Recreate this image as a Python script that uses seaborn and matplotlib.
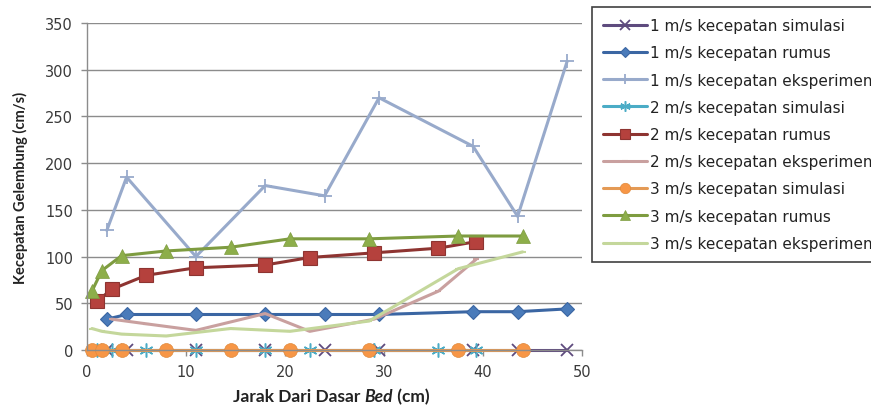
import numpy as np
import pandas as pd
import seaborn as sns
import matplotlib
matplotlib.use("Agg")
import matplotlib.pyplot as plt

sns.set_theme(style="white")
plt.rcParams["font.family"] = ["DejaVu Sans"]

# Measurement positions (cm from the bed) for each inlet velocity
x_1ms = [2, 4, 11, 18, 24, 29.5, 39, 43.5, 48.5]
x_2ms = [1, 2.5, 6, 11, 18, 22.5, 29, 35.5, 39.3]
x_3ms = [0.5, 1.5, 3.5, 8, 14.5, 20.5, 28.5, 37.5, 44]

# Bubble velocities (cm/s)
sim_1ms = [0, 0, 0, 0, 0, 0, 0, 0, 0]
rumus_1ms = [33, 38, 38, 38, 38, 38, 41, 41, 44]
eks_1ms = [128, 185, 100, 176, 165, 270, 218, 143, 309]

sim_2ms = [0, 0, 0, 0, 0, 0, 0, 0, 0]
rumus_2ms = [52, 65, 80, 88, 91, 99, 104, 109, 116]
eks_2ms = [np.nan, 33, 28, 21, 39, 20, 33, 63, 97]

sim_3ms = [0, 0, 0, 0, 0, 0, 0, 0, 0]
rumus_3ms = [63, 85, 101, 106, 110, 119, 119, 122, 122]
eks_3ms = [23, 20, 17, 15, 23, 20, 31, 87, 105]

labels = [
    "1 m/s kecepatan simulasi",
    "1 m/s kecepatan rumus",
    "1 m/s kecepatan eksperimen",
    "2 m/s kecepatan simulasi",
    "2 m/s kecepatan rumus",
    "2 m/s kecepatan eksperimen",
    "3 m/s kecepatan simulasi",
    "3 m/s kecepatan rumus",
    "3 m/s kecepatan eksperimen",
]

series = [
    (x_1ms, sim_1ms, dict(color="#5E4B7E", marker="x", ms=9, mew=1.3, mfc="#5E4B7E", mec="#5E4B7E")),
    (x_1ms, rumus_1ms, dict(color="#3B66A3", marker="D", ms=7, mew=0.8, mfc="#4A7BBA", mec="#3B66A3")),
    (x_1ms, eks_1ms, dict(color="#98AACB", marker="+", ms=10, mew=1.3, mfc="#98AACB", mec="#98AACB")),
    (x_2ms, sim_2ms, dict(color="#4BACC6", marker=(6, 2, 0), ms=10, mew=1.1, mfc="#4BACC6", mec="#4BACC6")),
    (x_2ms, rumus_2ms, dict(color="#8E3431", marker="s", ms=10, mew=0.8, mfc="#B5413D", mec="#8E3431")),
    (x_2ms, eks_2ms, dict(color="#C9A09F", marker="_", ms=5, mew=1.5, mfc="#C9A09F", mec="#C9A09F")),
    (x_3ms, sim_3ms, dict(color="#E49A55", marker="o", ms=10, mew=0.5, mfc="#F79646", mec="#E08A3C")),
    (x_3ms, rumus_3ms, dict(color="#7E9C40", marker="^", ms=10, mew=0.5, mfc="#8DAE4A", mec="#7E9C40")),
    (x_3ms, eks_3ms, dict(color="#C4D79B", marker="_", ms=5, mew=1.5, mfc="#C4D79B", mec="#C4D79B")),
]

fig = plt.figure(figsize=(8.71, 4.10), dpi=100)
ax = fig.add_axes([87 / 871, 1 - 351 / 410, (582 - 87) / 871, (351 - 24) / 410])

for (xs, ys, st), lab in zip(series, labels):
    df = pd.DataFrame({"x": xs, "y": ys})
    sns.lineplot(data=df, x="x", y="y", ax=ax, label=lab, color=st["color"],
                 marker=st["marker"], markersize=st["ms"], markeredgewidth=st["mew"],
                 markerfacecolor=st["mfc"], markeredgecolor=st["mec"],
                 linewidth=2.2, sort=False, estimator=None)
for ln in ax.get_lines():
    ln.set_clip_on(False)

ax.set_xlim(0, 50)
ax.set_ylim(0, 350)
ax.set_xticks([0, 10, 20, 30, 40, 50])
ax.set_yticks([0, 50, 100, 150, 200, 250, 300, 350])
ax.yaxis.grid(True, color="#8C8C8C", linewidth=1.0)
ax.set_axisbelow(True)
for side in ("top", "right"):
    ax.spines[side].set_visible(False)
for side in ("left", "bottom"):
    ax.spines[side].set_color("#8C8C8C")
    ax.spines[side].set_linewidth(1.0)
ax.tick_params(axis="both", labelsize=10.5, labelcolor="#3A3A3A", length=4, width=1,
               direction="out", left=True, bottom=True, pad=6, color="#8C8C8C")
ax.set_xlabel("")
ax.set_ylabel("Kecepatan Gelembung (cm/s)", fontsize=10.5, fontweight="bold",
              family=["Lato", "DejaVu Sans"], color="#222222", labelpad=12)

# x-axis title with italic "Bed"
fig.canvas.draw()
renderer = fig.canvas.get_renderer()
parts = [("Jarak Dari Dasar ", "normal"), ("Bed", "italic"), (" (cm)", "normal")]
texts = []
for s, style in parts:
    t = fig.text(0, 0, s, fontsize=12.5, fontweight="bold", style=style,
                 family=["Lato", "DejaVu Sans"], color="#222222", va="center", ha="left")
    texts.append(t)
widths = [t.get_window_extent(renderer).width for t in texts]
total = sum(widths)
cx = 331
x0 = cx - total / 2
for t, w in zip(texts, widths):
    t.set_position((x0 / 871, 1 - 397 / 410))
    x0 += w

leg = ax.legend(loc="upper left", bbox_to_anchor=(592 / 871, 1 - 8 / 410),
                bbox_transform=fig.transFigure, frameon=True, fancybox=False,
                edgecolor="#111111", fontsize=11, handlelength=2.9,
                handletextpad=0.15, labelspacing=0.8, borderpad=0.73,
                borderaxespad=0, markerscale=0.75)
leg.get_frame().set_linewidth(1.2)
for txt in leg.get_texts():
    txt.set_color("#222222")

fig.savefig("out.png", dpi=100)
